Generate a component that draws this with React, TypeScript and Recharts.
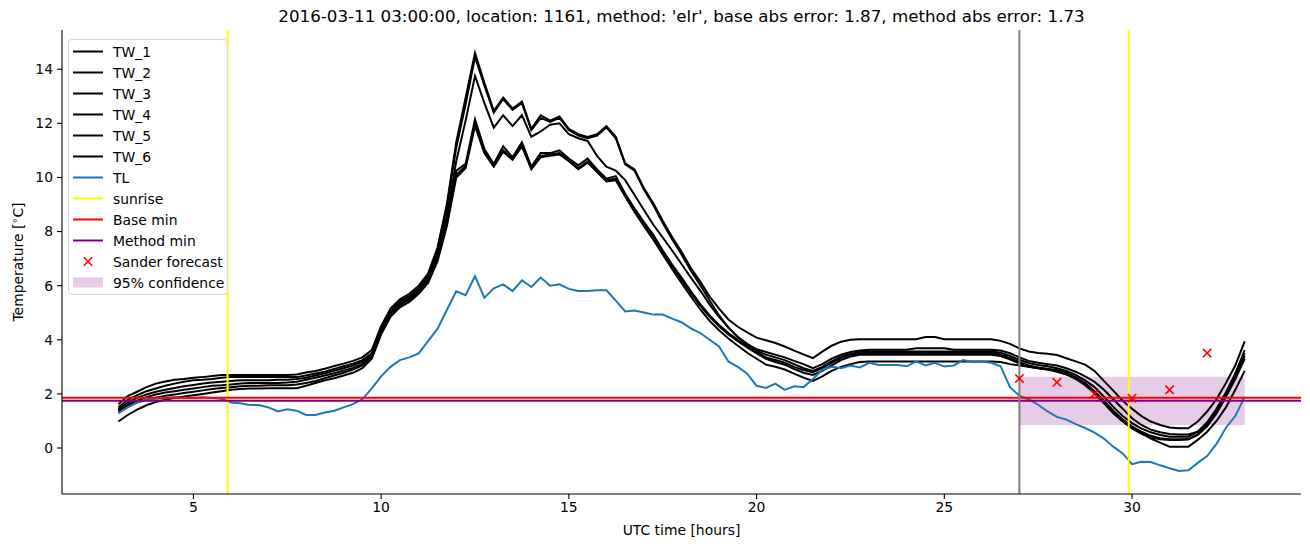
import { ComposedChart, Line, Scatter, XAxis, YAxis, ReferenceLine, ReferenceArea, Label } from 'recharts';

// time axis, hours since 2016-03-11 00:00 UTC (quarter-hour steps)
const HOURS = [
  3, 3.25, 3.5, 3.75, 4, 4.25, 4.5, 4.75, 5, 5.25,
  5.5, 5.75, 6, 6.25, 6.5, 6.75, 7, 7.25, 7.5, 7.75,
  8, 8.25, 8.5, 8.75, 9, 9.25, 9.5, 9.75, 10, 10.25,
  10.5, 10.75, 11, 11.25, 11.5, 11.75, 12, 12.25, 12.5, 12.75,
  13, 13.25, 13.5, 13.75, 14, 14.25, 14.5, 14.75, 15, 15.25,
  15.5, 15.75, 16, 16.25, 16.5, 16.75, 17, 17.25, 17.5, 17.75,
  18, 18.25, 18.5, 18.75, 19, 19.25, 19.5, 19.75, 20, 20.25,
  20.5, 20.75, 21, 21.25, 21.5, 21.75, 22, 22.25, 22.5, 22.75,
  23, 23.25, 23.5, 23.75, 24, 24.25, 24.5, 24.75, 25, 25.25,
  25.5, 25.75, 26, 26.25, 26.5, 26.75, 27, 27.25, 27.5, 27.75,
  28, 28.25, 28.5, 28.75, 29, 29.25, 29.5, 29.75, 30, 30.25,
  30.5, 30.75, 31, 31.25, 31.5, 31.75, 32, 32.25, 32.5, 32.75,
  33,
];

const TW_1 = [
  1.62, 1.92, 2.08, 2.25, 2.38, 2.46, 2.52, 2.55, 2.6, 2.62,
  2.66, 2.7, 2.7, 2.7, 2.7, 2.7, 2.7, 2.7, 2.7, 2.72,
  2.79, 2.85, 2.93, 3.03, 3.12, 3.22, 3.35, 3.62, 4.5, 5.15,
  5.5, 5.7, 6.0, 6.45, 7.4, 9.0, 11.3, 12.95, 14.6, 13.5,
  12.46, 12.95, 12.55, 12.8, 11.8, 12.3, 12.1, 12.25, 11.8, 11.6,
  11.5, 11.6, 11.9, 11.5, 10.52, 10.3, 9.6, 9.05, 8.4, 7.8,
  7.25, 6.65, 6.15, 5.6, 5.15, 4.75, 4.48, 4.27, 4.08, 3.98,
  3.88, 3.75, 3.6, 3.46, 3.32, 3.56, 3.78, 3.93, 4.0, 4.02,
  4.02, 4.02, 4.02, 4.02, 4.02, 4.02, 4.1, 4.1, 4.02, 4.02,
  4.02, 4.02, 4.02, 4.02, 3.96, 3.85, 3.68, 3.57, 3.51, 3.48,
  3.44, 3.32, 3.2, 3.08, 2.85, 2.48, 2.12, 1.75, 1.45, 1.18,
  0.98, 0.85, 0.76, 0.73, 0.73, 0.98, 1.35, 1.8, 2.4, 3.05,
  3.94,
];

const TW_2 = [
  1.5, 1.78, 1.95, 2.1, 2.2, 2.3, 2.38, 2.45, 2.5, 2.52,
  2.55, 2.6, 2.62, 2.62, 2.62, 2.62, 2.62, 2.62, 2.62, 2.62,
  2.68, 2.75, 2.82, 2.92, 3.02, 3.12, 3.25, 3.5, 4.4, 5.05,
  5.42, 5.62, 5.92, 6.35, 7.3, 8.9, 11.1, 12.7, 14.45, 13.4,
  12.4, 12.9, 12.5, 12.75, 11.75, 12.2, 12.05, 12.2, 11.75, 11.55,
  11.45, 11.55, 11.85, 11.45, 10.48, 10.25, 9.55, 8.98, 8.32, 7.72,
  7.15, 6.55, 6.02, 5.45, 4.9, 4.45, 4.1, 3.85, 3.65, 3.55,
  3.45, 3.35, 3.22, 3.1, 2.95, 3.1, 3.3, 3.45, 3.55, 3.6,
  3.63, 3.63, 3.63, 3.63, 3.63, 3.69, 3.69, 3.69, 3.69, 3.63,
  3.63, 3.63, 3.63, 3.63, 3.6, 3.5, 3.35, 3.22, 3.15, 3.1,
  3.05, 2.95, 2.82, 2.65, 2.45, 2.15, 1.8, 1.45, 1.1, 0.85,
  0.68, 0.58, 0.52, 0.5, 0.5, 0.6, 0.9, 1.35, 2.0, 2.75,
  3.62,
];

const TW_3 = [
  1.42, 1.68, 1.85, 1.98, 2.08, 2.15, 2.22, 2.28, 2.33, 2.38,
  2.42, 2.45, 2.48, 2.5, 2.5, 2.5, 2.5, 2.52, 2.52, 2.55,
  2.6, 2.68, 2.76, 2.85, 2.95, 3.05, 3.18, 3.45, 4.35, 5.0,
  5.35, 5.55, 5.85, 6.25, 7.2, 8.6, 10.6, 12.1, 13.75, 12.75,
  11.84, 12.3, 11.9, 12.3, 11.5, 11.7, 11.95, 12.0, 11.6, 11.45,
  11.35, 10.8, 10.4, 10.25, 9.9, 9.35, 8.8, 8.25, 7.78, 7.3,
  6.8, 6.3, 5.82, 5.3, 4.85, 4.45, 4.1, 3.82, 3.6, 3.45,
  3.35, 3.25, 3.1, 2.95, 2.85, 3.0, 3.2, 3.38, 3.48, 3.55,
  3.57, 3.57, 3.57, 3.57, 3.57, 3.57, 3.57, 3.57, 3.57, 3.57,
  3.57, 3.57, 3.57, 3.57, 3.52, 3.4, 3.26, 3.14, 3.07, 3.02,
  2.95, 2.85, 2.7, 2.5, 2.25, 1.9, 1.52, 1.18, 0.92, 0.72,
  0.58, 0.48, 0.42, 0.42, 0.42, 0.6, 0.95, 1.45, 2.05, 2.75,
  3.5,
];

const TW_4 = [
  1.35, 1.6, 1.75, 1.88, 1.98, 2.05, 2.1, 2.15, 2.2, 2.25,
  2.3, 2.32, 2.35, 2.38, 2.4, 2.4, 2.4, 2.4, 2.42, 2.45,
  2.52, 2.6, 2.68, 2.76, 2.86, 2.96, 3.1, 3.4, 4.3, 4.95,
  5.3, 5.5, 5.8, 6.2, 7.05, 8.45, 10.25, 10.5, 12.15, 11.05,
  10.5, 11.15, 10.75, 11.3, 10.4, 10.9, 10.9, 11.0, 10.7, 10.45,
  10.7, 10.3, 9.95, 10.05, 9.4, 8.85, 8.35, 7.88, 7.3, 6.78,
  6.3, 5.8, 5.32, 4.9, 4.55, 4.25, 4.0, 3.78, 3.55, 3.35,
  3.25, 3.15, 3.0, 2.88, 2.8, 2.95, 3.15, 3.32, 3.45, 3.5,
  3.51, 3.51, 3.51, 3.51, 3.51, 3.51, 3.51, 3.51, 3.51, 3.51,
  3.51, 3.51, 3.51, 3.51, 3.46, 3.32, 3.18, 3.05, 2.98, 2.93,
  2.88, 2.78, 2.62, 2.4, 2.1, 1.75, 1.38, 1.05, 0.8, 0.6,
  0.45, 0.36, 0.32, 0.32, 0.32, 0.5, 0.85, 1.35, 1.95, 2.65,
  3.4,
];

const TW_5 = [
  1.38, 1.55, 1.68, 1.78, 1.86, 1.93, 1.98, 2.03, 2.08, 2.13,
  2.18, 2.22, 2.25, 2.28, 2.3, 2.3, 2.32, 2.32, 2.32, 2.35,
  2.4, 2.48, 2.58, 2.68, 2.78, 2.9, 3.05, 3.35, 4.25, 4.9,
  5.25, 5.45, 5.75, 6.15, 6.95, 8.3, 10.1, 10.42, 12.0, 10.95,
  10.42, 11.0, 10.7, 11.2, 10.35, 10.8, 10.85, 10.9, 10.65, 10.35,
  10.6, 10.25, 9.9, 9.95, 9.35, 8.8, 8.3, 7.8, 7.25, 6.72,
  6.22, 5.72, 5.25, 4.85, 4.5, 4.2, 3.95, 3.72, 3.5, 3.3,
  3.18, 3.08, 2.92, 2.78, 2.7, 2.85, 3.05, 3.25, 3.38, 3.45,
  3.45, 3.45, 3.45, 3.45, 3.45, 3.45, 3.45, 3.45, 3.45, 3.45,
  3.45, 3.45, 3.45, 3.45, 3.4, 3.28, 3.12, 3.0, 2.95, 2.9,
  2.85, 2.72, 2.55, 2.32, 2.02, 1.65, 1.28, 0.98, 0.72, 0.52,
  0.4, 0.32, 0.3, 0.3, 0.32, 0.48, 0.8, 1.28, 1.88, 2.55,
  3.3,
];

const TW_6 = [
  0.98, 1.22, 1.42, 1.58, 1.7, 1.78, 1.86, 1.9, 1.95, 2.0,
  2.05, 2.1, 2.15, 2.18, 2.2, 2.2, 2.21, 2.21, 2.21, 2.21,
  2.3, 2.4, 2.5, 2.58, 2.68, 2.78, 2.95, 3.3, 4.2, 4.85,
  5.2, 5.4, 5.7, 6.1, 6.9, 8.2, 10.0, 10.35, 11.9, 10.9,
  10.4, 10.95, 10.65, 11.15, 10.3, 10.75, 10.8, 10.85, 10.6, 10.3,
  10.55, 10.2, 9.85, 9.9, 9.3, 8.72, 8.2, 7.7, 7.15, 6.62,
  6.1, 5.6, 5.12, 4.7, 4.35, 4.05, 3.78, 3.52, 3.3, 3.08,
  3.0, 2.9, 2.75, 2.6, 2.48, 2.65, 2.85, 3.0, 3.1, 3.18,
  3.2, 3.2, 3.2, 3.2, 3.2, 3.2, 3.2, 3.2, 3.2, 3.2,
  3.2, 3.2, 3.2, 3.2, 3.18, 3.1, 3.05, 3.0, 2.95, 2.9,
  2.82, 2.72, 2.6, 2.35, 2.05, 1.7, 1.32, 1.0, 0.75, 0.55,
  0.35, 0.2, 0.05, 0.05, 0.05, 0.3, 0.6, 1.0, 1.5, 2.15,
  2.85,
];

const TL = [
  1.28, 1.5, 1.68, 1.78, 1.82, 1.85, 1.88, 1.85, 1.85, 1.88,
  1.85, 1.82, 1.68, 1.65, 1.59, 1.59, 1.5, 1.35, 1.43, 1.38,
  1.22, 1.22, 1.31, 1.38, 1.5, 1.62, 1.8, 2.2, 2.65, 3.0,
  3.25, 3.35, 3.5, 3.95, 4.4, 5.1, 5.79, 5.65, 6.35, 5.55,
  5.9, 6.05, 5.8, 6.2, 5.95, 6.3, 6.0, 6.05, 5.88, 5.8,
  5.8, 5.83, 5.83, 5.45, 5.05, 5.08, 5.01, 4.93, 4.93, 4.78,
  4.65, 4.42, 4.25, 4.0, 3.75, 3.2, 3.0, 2.75, 2.3, 2.22,
  2.38, 2.15, 2.28, 2.25, 2.55, 2.89, 3.0, 2.95, 3.05, 2.98,
  3.15, 3.07, 3.07, 3.07, 3.02, 3.2, 3.05, 3.15, 3.01, 3.05,
  3.25, 3.18, 3.2, 3.15, 3.02, 2.25, 1.93, 1.8, 1.6, 1.35,
  1.15, 1.05, 0.88, 0.74, 0.57, 0.35, 0.05, -0.2, -0.6, -0.51,
  -0.52, -0.64, -0.75, -0.85, -0.82, -0.55, -0.3, 0.15, 0.75, 1.18,
  1.9,
];

const TW_NAMES = ['TW_1', 'TW_2', 'TW_3', 'TW_4', 'TW_5', 'TW_6'];
const TW_SERIES = [TW_1, TW_2, TW_3, TW_4, TW_5, TW_6];

const FORECAST_HOURS = [27, 28, 29, 30, 31, 32];
const FORECAST_VALUES = [2.57, 2.43, 2.0, 1.84, 2.15, 3.51];

const SUNRISE_HOURS = [5.91, 29.91];
const FORECAST_START = 27;
const BASE_MIN = 1.86;
const METHOD_MIN = 1.75;
const CONF_HOURS = [27, 33];
const CONF_RANGE = [0.85, 2.63];

const X_TICKS = [5, 10, 15, 20, 25, 30];
const Y_TICKS = [0, 2, 4, 6, 8, 10, 12, 14];

const TITLE = "2016-03-11 03:00:00, location: 1161, method: 'elr', base abs error: 1.87, method abs error: 1.73";

const FONT = "'DejaVu Sans', sans-serif";

const data = HOURS.map((h, i) => {
  const row: Record<string, number> = { h, TL: TL[i] };
  TW_NAMES.forEach((name, k) => {
    row[name] = TW_SERIES[k][i];
  });
  return row;
});

const forecast = FORECAST_HOURS.map((h, i) => ({ h, sander: FORECAST_VALUES[i] }));

const tickStyle = { fill: '#000', fontSize: 13.9, fontFamily: FONT };

function XMarker(props: any) {
  const { cx, cy } = props;
  const r = 4.2;
  return (
    <path
      d={`M${cx - r},${cy - r}L${cx + r},${cy + r}M${cx - r},${cy + r}L${cx + r},${cy - r}`}
      stroke="red"
      strokeWidth={1.6}
      fill="none"
    />
  );
}

const legendItems = [
  ...TW_NAMES.map((n) => ({ label: n, kind: 'line', color: '#000' })),
  { label: 'TL', kind: 'line', color: '#1f77b4' },
  { label: 'sunrise', kind: 'line', color: '#ffff00' },
  { label: 'Base min', kind: 'line', color: 'red' },
  { label: 'Method min', kind: 'line', color: 'purple' },
  { label: 'Sander forecast', kind: 'x', color: 'red' },
  { label: '95% confidence', kind: 'patch', color: 'purple' },
];

function ChartLegend() {
  return (
    <div
      style={{
        position: 'absolute',
        left: 68,
        top: 39,
        width: 160,
        height: 256,
        boxSizing: 'border-box',
        border: '1px solid #d6d6d6',
        borderRadius: 4,
        background: 'rgba(255,255,255,0.8)',
        fontFamily: FONT,
        fontSize: 13.9,
        color: '#000',
        paddingTop: 1,
      }}
    >
      {legendItems.map((it) => (
        <div key={it.label} style={{ display: 'flex', alignItems: 'center', height: 21, whiteSpace: 'nowrap' }}>
          <svg width={44} height={21} style={{ flex: 'none' }}>
            {it.kind === 'line' && <line x1={4} x2={34} y1={10.5} y2={10.5} stroke={it.color} strokeWidth={2} />}
            {it.kind === 'x' && (
              <path d="M14.8,6.3L23.2,14.7M14.8,14.7L23.2,6.3" stroke={it.color} strokeWidth={1.6} fill="none" />
            )}
            {it.kind === 'patch' && <rect x={4} y={5.5} width={30} height={10} fill={it.color} fillOpacity={0.2} />}
          </svg>
          <span>{it.label}</span>
        </div>
      ))}
    </div>
  );
}

export default function App() {
  return (
    <div style={{ position: 'absolute', left: 0, top: 0, width: 1310, height: 547, background: '#fff', fontFamily: FONT }}>
      <div
        style={{
          position: 'absolute',
          left: 62,
          width: 1239,
          top: 6,
          textAlign: 'center',
          fontSize: 16.7,
          lineHeight: '20px',
          color: '#000',
          whiteSpace: 'nowrap',
        }}
      >
        {TITLE}
      </div>
      <ComposedChart width={1310} height={547} data={data} margin={{ top: 30, right: 9, left: 0, bottom: 0 }}>
        <XAxis
          dataKey="h"
          type="number"
          domain={[1.5, 34.5]}
          ticks={X_TICKS}
          allowDataOverflow
          height={53}
          tick={tickStyle}
          tickSize={5}
          tickMargin={3}
          axisLine={{ stroke: '#000', strokeWidth: 1.1 }}
          tickLine={{ stroke: '#000', strokeWidth: 1.1 }}
        >
          <Label value="UTC time [hours]" position="insideBottom" offset={12} style={{ fontSize: 13.9, fontFamily: FONT, fill: '#000' }} />
        </XAxis>
        <XAxis
          xAxisId="top"
          orientation="top"
          type="number"
          domain={[0, 1]}
          height={0}
          tick={false}
          tickLine={false}
          axisLine={{ stroke: '#000', strokeWidth: 1.1 }}
        />
        <YAxis
          type="number"
          domain={[-1.7, 15.45]}
          ticks={Y_TICKS}
          allowDataOverflow
          width={62}
          tick={tickStyle}
          tickSize={5}
          tickMargin={4}
          axisLine={{ stroke: '#000', strokeWidth: 1.1 }}
          tickLine={{ stroke: '#000', strokeWidth: 1.1 }}
        >
          <Label
            content={(p: any) => {
              const vb = p.viewBox;
              const x = vb.x + 18;
              const y = vb.y + vb.height / 2;
              return (
                <text x={x} y={y} transform={`rotate(-90 ${x} ${y})`} textAnchor="middle" dominantBaseline="central" style={{ fontSize: 13.9, fontFamily: FONT, fill: '#000' }}>
                  Temperature [
                  <tspan baselineShift="35%" fontSize={9.7}>{'\u2218'}</tspan>
                  C]
                </text>
              );
            }}
          />
        </YAxis>
        <YAxis
          yAxisId="right"
          orientation="right"
          type="number"
          domain={[0, 1]}
          width={0}
          tick={false}
          tickLine={false}
          axisLine={{ stroke: '#000', strokeWidth: 1.1 }}
        />

        <ReferenceArea
          x1={CONF_HOURS[0]}
          x2={CONF_HOURS[1]}
          y1={CONF_RANGE[0]}
          y2={CONF_RANGE[1]}
          fill="purple"
          fillOpacity={0.2}
          stroke="none"
        />

        {TW_NAMES.map((n) => (
          <Line key={n} dataKey={n} stroke="#000" strokeWidth={2} dot={false} isAnimationActive={false} />
        ))}
        <Line dataKey="TL" stroke="#1f77b4" strokeWidth={2} dot={false} isAnimationActive={false} />

        {SUNRISE_HOURS.map((h) => (
          <ReferenceLine key={h} x={h} stroke="#ffff00" strokeWidth={2} />
        ))}
        <ReferenceLine y={BASE_MIN} stroke="red" strokeWidth={2} />
        <ReferenceLine y={METHOD_MIN} stroke="purple" strokeWidth={2} />
        <ReferenceLine x={FORECAST_START} stroke="#808080" strokeWidth={2} />

        <Scatter data={forecast} dataKey="sander" shape={<XMarker />} isAnimationActive={false} />
      </ComposedChart>
      <ChartLegend />
    </div>
  );
}
